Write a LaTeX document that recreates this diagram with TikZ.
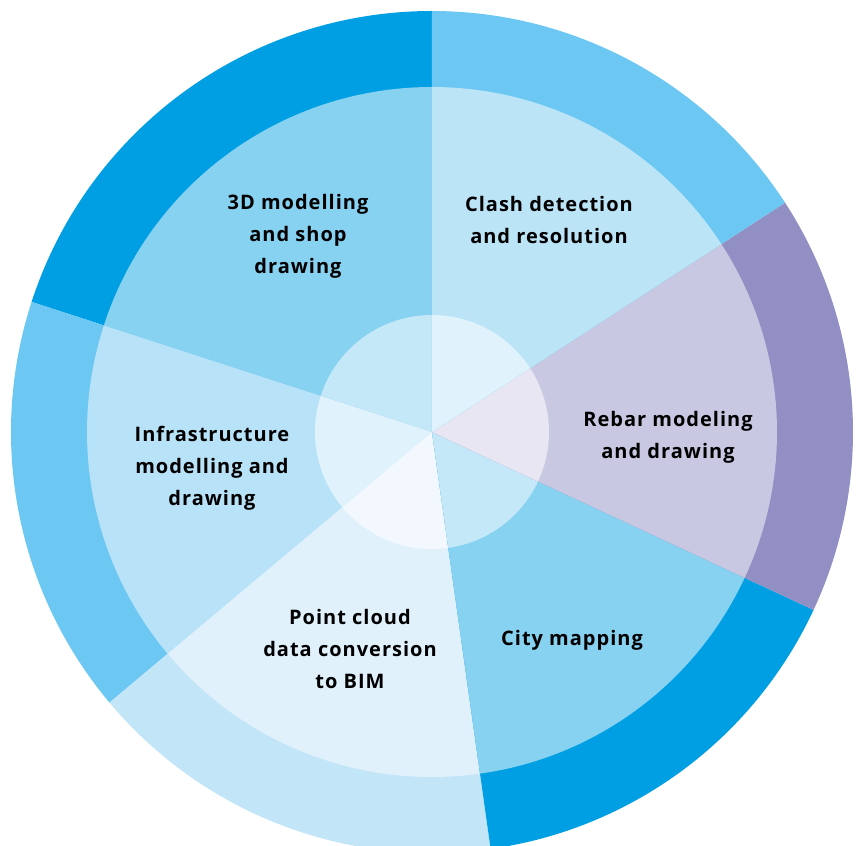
\documentclass[tikz,border=0pt]{standalone}
\usepackage{fontspec}
\setmainfont{Open Sans}[LetterSpace=5]
\definecolor{oDark}{HTML}{009FE3}
\definecolor{oMid}{HTML}{6CC8F3}
\definecolor{oPurple}{HTML}{918FC3}
\definecolor{oPale}{HTML}{C3E5F8}
\definecolor{mA}{HTML}{87D1F1}
\definecolor{mB}{HTML}{BBE4F7}
\definecolor{mC}{HTML}{C9C8E2}
\definecolor{mD}{HTML}{E1F1FC}
\definecolor{mE}{HTML}{B8E2F7}
\definecolor{iA}{HTML}{C4E8F8}
\definecolor{iB}{HTML}{E0F2FB}
\definecolor{iC}{HTML}{E8E6F2}
\definecolor{iD}{HTML}{F2F8FE}
\definecolor{iE}{HTML}{E0F2FB}
\tikzset{
  lbl/.style={align=center, font=\fontsize{20}{32}\selectfont\bfseries, text=black, inner sep=0pt}
}
\begin{document}
\begin{tikzpicture}[x=1pt,y=1pt]
\useasboundingbox (-432,-414) rectangle (425,432);
\def\Ro{421}\def\Rm{345}\def\Ri{117}
\foreach \a/\b/\co/\cm/\ci in {90/162/oDark/mA/iA, 162/220/oMid/mE/iE, 220/278/oPale/mD/iD, 278/335/oDark/mA/iA, 335/393/oPurple/mC/iC, 33/90/oMid/mB/iB}{
  \fill[\co] (0,0) -- (\a:\Ro) arc[start angle=\a, end angle=\b, radius=\Ro] -- cycle;
  \fill[\cm] (0,0) -- (\a:\Rm) arc[start angle=\a, end angle=\b, radius=\Rm] -- cycle;
  \fill[\ci] (0,0) -- (\a:\Ri) arc[start angle=\a, end angle=\b, radius=\Ri] -- cycle;
}
\node[lbl] (t3d) at (-134,196) {3D modelling\\and shop\\drawing};
\node[lbl] (tclash) at (117,212) {Clash detection\\and resolution};
\node[lbl] (trebar) at (236,-5) {Rebar modeling\\and drawing};
\node[lbl] (tcity) at (140,-208) {City mapping};
\node[lbl] (tpoint) at (-82,-217) {Point cloud\\data conversion\\to BIM};
\node[lbl] (tinfra) at (-220,-36) {Infrastructure\\modelling and\\drawing};
\end{tikzpicture}
\end{document}
